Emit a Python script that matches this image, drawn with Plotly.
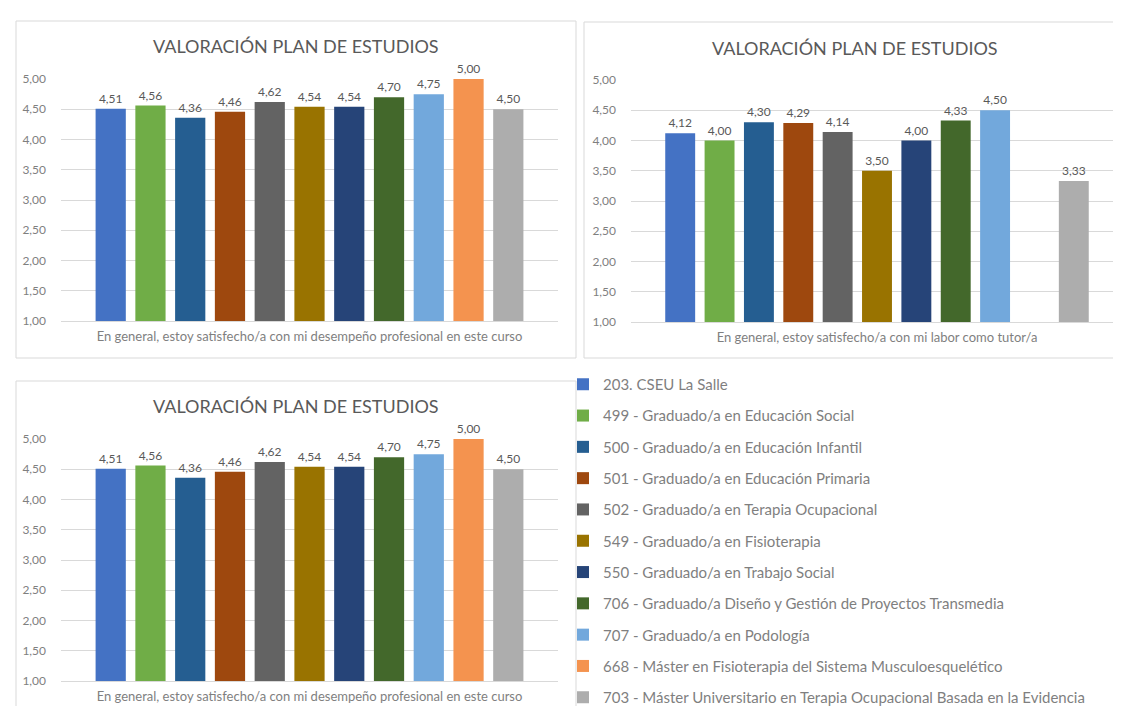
import plotly.graph_objects as go

# ---------------- data ----------------
series = [
    "203. CSEU La Salle",
    "499 - Graduado/a en Educación Social",
    "500 - Graduado/a en Educación Infantil",
    "501 - Graduado/a en Educación Primaria",
    "502 - Graduado/a en Terapia Ocupacional",
    "549 - Graduado/a en Fisioterapia",
    "550 - Graduado/a en Trabajo Social",
    "706 - Graduado/a Diseño y Gestión de Proyectos Transmedia",
    "707 - Graduado/a en Podología",
    "668 - Máster en Fisioterapia del Sistema Musculoesquelético",
    "703 - Máster Universitario en Terapia Ocupacional Basada en la Evidencia",
]
colors = ["#4472C4", "#70AD47", "#255E91", "#9E480E", "#636363", "#997300",
          "#264478", "#43682B", "#72A8DC", "#F4934F", "#ADADAD"]

values_top_left = [4.51, 4.56, 4.36, 4.46, 4.62, 4.54, 4.54, 4.70, 4.75, 5.00, 4.50]
values_top_right = [4.12, 4.00, 4.30, 4.29, 4.14, 3.50, 4.00, 4.33, 4.50, None, 3.33]
values_bottom_left = [4.51, 4.56, 4.36, 4.46, 4.62, 4.54, 4.54, 4.70, 4.75, 5.00, 4.50]

category_prof = "En general, estoy satisfecho/a con mi desempeño profesional en este curso"
category_tutor = "En general, estoy satisfecho/a con mi labor como tutor/a"
chart_title = "VALORACIÓN PLAN DE ESTUDIOS"
y_ticks = [1.0, 1.5, 2.0, 2.5, 3.0, 3.5, 4.0, 4.5, 5.0]

# ---------------- figure ----------------
W, H = 1121, 706
FONT = "Lato, 'Open Sans', sans-serif"
GRAY = "#595959"
LIGHT = "#7F7F7F"
GRID = "#D9D9D9"

def px_x(v):
    return v / W

def px_y(v):
    return (H - v) / H

fig = go.Figure()

panels = [
    ("", values_top_left, category_prof, True),
    ("2", values_top_right, category_tutor, False),
    ("3", values_bottom_left, category_prof, False),
]
for i, (name, color) in enumerate(zip(series, colors)):
    for suffix, vals, cat, show in panels:
        fig.add_trace(go.Bar(
            x=[cat], y=[vals[i]], name=name, legendgroup=name,
            showlegend=show, marker=dict(color=color, line=dict(width=0)),
            xaxis="x" + suffix, yaxis="y" + suffix,
            texttemplate="%{y:.2f}", textposition="outside",
            textfont=dict(size=12, color=GRAY, family=FONT),
            cliponaxis=False, hoverinfo="name+y",
        ))

domains = {
    "": (px_x(53), px_x(550), px_y(313), px_y(71)),
    "2": (px_x(623), px_x(1115), px_y(314), px_y(72)),
    "3": (px_x(53), px_x(550), px_y(673), px_y(431)),
}
layout_axes = {}
for suffix, (x0, x1, y0, y1) in domains.items():
    xa = "xaxis" + suffix
    ya = "yaxis" + suffix
    layout_axes[xa] = dict(
        domain=[x0, x1], anchor="y" + suffix, showgrid=False, zeroline=False,
        showline=True, linecolor=GRID, linewidth=1, ticks="",
        tickfont=dict(size=13, color=LIGHT, family=FONT), ticklabelstandoff=3,
        fixedrange=True,
    )
    layout_axes[ya] = dict(
        domain=[y0, y1], anchor="x" + suffix, range=[1, 5], tickvals=y_ticks,
        tickformat=".2f", showgrid=True, gridcolor=GRID, gridwidth=1,
        zeroline=False, showline=False, ticks="",
        tickfont=dict(size=12, color=LIGHT, family=FONT), ticklabelstandoff=14,
        fixedrange=True,
    )

# chart frames
boxes = [(8, 13, 568, 350), (576, 14, 1118, 350), (8, 373, 568, 712)]
shapes = [dict(type="rect", xref="paper", yref="paper",
               x0=px_x(a), x1=px_x(c), y0=px_y(d), y1=px_y(b),
               line=dict(color=GRID, width=1), fillcolor="rgba(0,0,0,0)", layer="below")
          for a, b, c, d in boxes]

titles = [(288, 38), (847, 40), (288, 398)]
annotations = [dict(text=chart_title, xref="paper", yref="paper", x=px_x(tx), y=px_y(ty),
                    xanchor="center", yanchor="middle", showarrow=False,
                    font=dict(size=18, color=GRAY, family=FONT))
               for tx, ty in titles]

fig.update_layout(
    width=W, height=H, margin=dict(l=0, r=0, t=0, b=0, autoexpand=False),
    paper_bgcolor="white", plot_bgcolor="white",
    barmode="group", bargap=0.12, bargroupgap=0.24,
    separators=",.", shapes=shapes, annotations=annotations,
    font=dict(family=FONT, color=GRAY),
    legend=dict(x=px_x(555), y=px_y(360), xanchor="left", yanchor="top",
                font=dict(size=15, color=LIGHT, family=FONT),
                tracegroupgap=8.8, bgcolor="rgba(0,0,0,0)", traceorder="grouped"),
    showlegend=True,
    **layout_axes,
)

fig.write_html("out.html")
